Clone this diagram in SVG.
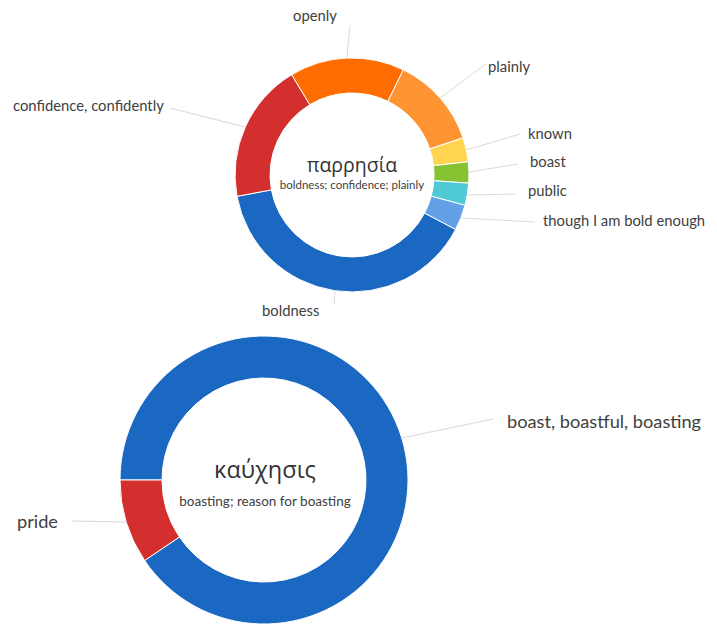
<svg xmlns="http://www.w3.org/2000/svg" width="717" height="627" viewBox="0 0 717 627">
<style>
.seg{stroke:#fff;stroke-width:1}
.lbl{font-family:Lato,"Open Sans","Liberation Sans",sans-serif;fill:#404040}
.s{font-size:14.8px}
.b{font-size:18.2px}
.ttl{font-family:"Open Sans","Noto Sans",sans-serif;fill:#333;text-anchor:middle}
.sub{font-family:Lato,"Open Sans",sans-serif;fill:#404040;text-anchor:middle}
.ld{stroke:#d9d9d9;stroke-width:1;fill:none}
</style>
<rect width="717" height="627" fill="#fff"/>
<g id="connectors">
<line class="ld" x1="350" y1="25" x2="347" y2="57"/>
<line class="ld" x1="486" y1="64" x2="440" y2="98"/>
<line class="ld" x1="170" y1="108" x2="245" y2="127"/>
<line class="ld" x1="520" y1="134" x2="466" y2="150"/>
<line class="ld" x1="518" y1="164" x2="469" y2="172"/>
<line class="ld" x1="516" y1="194" x2="468" y2="195"/>
<line class="ld" x1="535" y1="222" x2="461" y2="218"/>
<line class="ld" x1="335" y1="291" x2="334" y2="304"/>
<line class="ld" x1="493" y1="419" x2="402" y2="438"/>
<line class="ld" x1="72" y1="521" x2="126" y2="522"/>
</g>
<g id="chart-parrhesia">
<path class="seg" fill="#1b68c2" d="M455.6,229.4 A117,117 0 0 1 237.0,196.3 L271.4,189.9 A82,82 0 0 0 424.6,213.1 Z"/>
<path class="seg" fill="#d32f2f" d="M237.0,196.3 A117,117 0 0 1 291.7,74.7 L309.8,104.7 A82,82 0 0 0 271.4,189.9 Z"/>
<path class="seg" fill="#ff6d00" d="M291.7,74.7 A117,117 0 0 1 403.3,69.8 L387.9,101.3 A82,82 0 0 0 309.8,104.7 Z"/>
<path class="seg" fill="#ff9433" d="M403.3,69.8 A117,117 0 0 1 463.0,137.9 L429.8,149.0 A82,82 0 0 0 387.9,101.3 Z"/>
<path class="seg" fill="#ffd54f" d="M463.0,137.9 A117,117 0 0 1 468.3,161.8 L433.5,165.7 A82,82 0 0 0 429.8,149.0 Z"/>
<path class="seg" fill="#86c232" d="M468.3,161.8 A117,117 0 0 1 468.7,183.2 L433.8,180.7 A82,82 0 0 0 433.5,165.7 Z"/>
<path class="seg" fill="#4fc9d4" d="M468.7,183.2 A117,117 0 0 1 465.0,205.3 L431.2,196.2 A82,82 0 0 0 433.8,180.7 Z"/>
<path class="seg" fill="#64a0e8" d="M465.0,205.3 A117,117 0 0 1 455.6,229.4 L424.6,213.1 A82,82 0 0 0 431.2,196.2 Z"/>
<text class="ttl" x="352" y="172" font-size="19.5">παρρησία</text>
<text class="sub" x="352" y="189" font-size="11.5">boldness; confidence; plainly</text>
</g>
<g id="labels-parrhesia">
<text class="lbl s" x="293" y="21">openly</text>
<text class="lbl s" x="488" y="72">plainly</text>
<text class="lbl s" x="13" y="111">confidence, confidently</text>
<text class="lbl s" x="528" y="139">known</text>
<text class="lbl s" x="530" y="167">boast</text>
<text class="lbl s" x="528" y="196">public</text>
<text class="lbl s" x="543" y="226">though I am bold enough</text>
<text class="lbl s" x="262" y="316">boldness</text>
</g>
<g id="chart-kauchesis">
<path class="seg" fill="#1b68c2" d="M120,480 A144,144 0 1 1 144.6,560.5 L179.4,537.0 A102,102 0 1 0 162,480 Z"/>
<path class="seg" fill="#d32f2f" d="M144.6,560.5 A144,144 0 0 1 120,480 L162,480 A102,102 0 0 0 179.4,537.0 Z"/>
<text class="ttl" x="265" y="478" font-size="23.5">καύχησις</text>
<text class="sub" x="265" y="506" font-size="13.5">boasting; reason for boasting</text>
</g>
<g id="labels-kauchesis">
<text class="lbl b" x="507" y="428">boast, boastful, boasting</text>
<text class="lbl b" x="17" y="528">pride</text>
</g>
</svg>
